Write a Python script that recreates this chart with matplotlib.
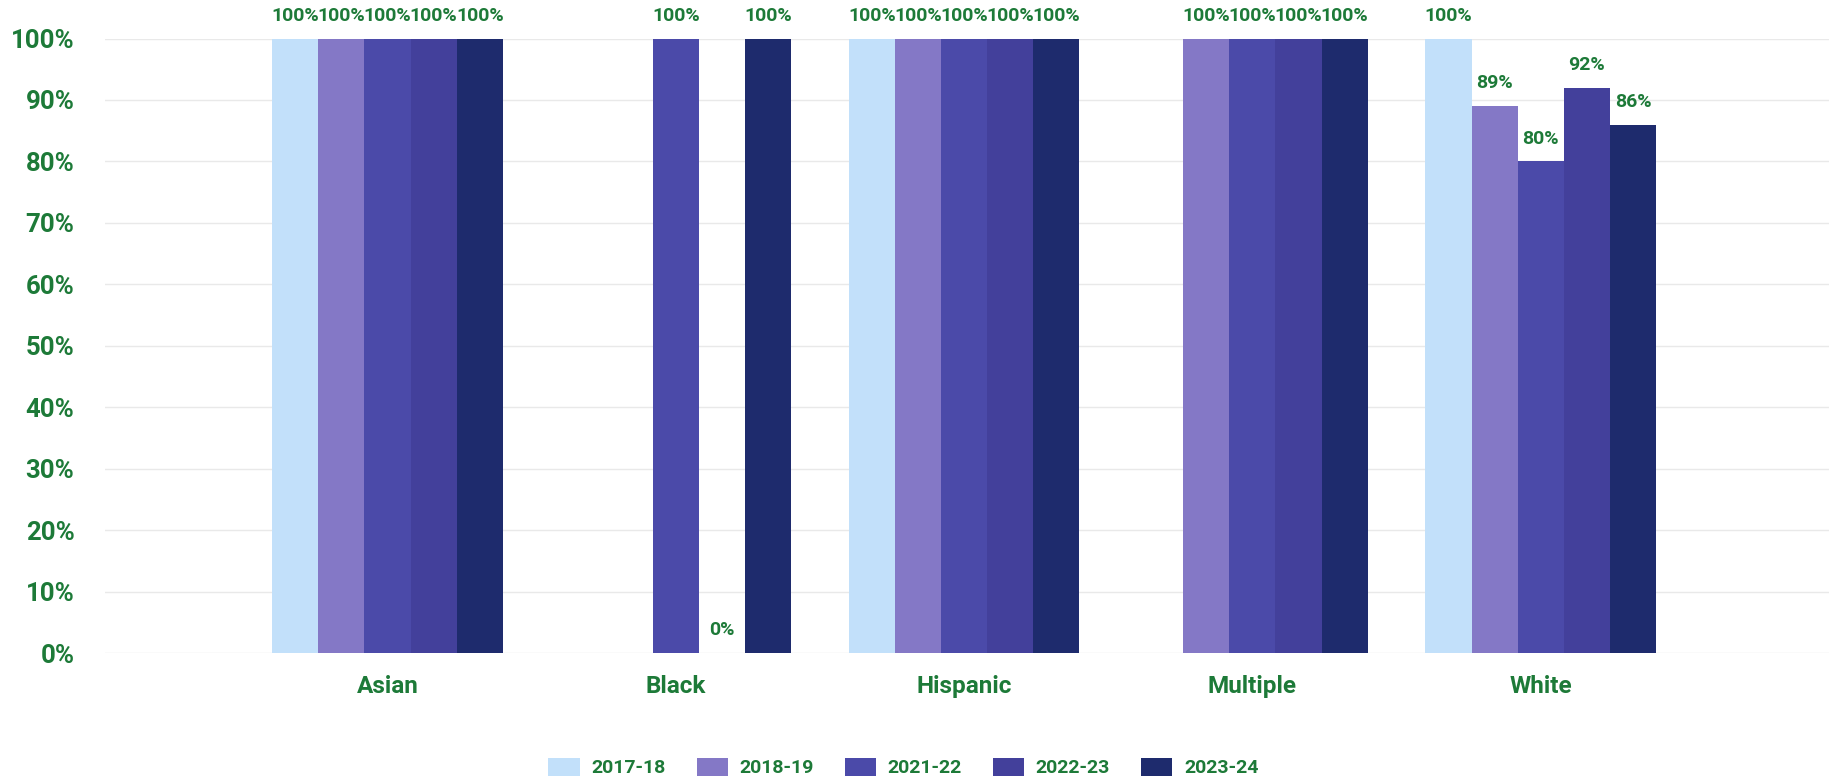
import numpy as np
import matplotlib.pyplot as plt

plt.rcParams['font.family'] = ['Roboto', 'DejaVu Sans']
plt.rcParams['font.weight'] = 'bold'

# data (nan = no bar)
groups = ["Asian", "Black", "Hispanic", "Multiple", "White"]
years = ["2017-18", "2018-19", "2021-22", "2022-23", "2023-24"]
v_2017_18 = [100, np.nan, 100, np.nan, 100]
v_2018_19 = [100, np.nan, 100, 100, 89]
v_2021_22 = [100, 100, 100, 100, 80]
v_2022_23 = [100, 0, 100, 100, 92]
v_2023_24 = [100, 100, 100, 100, 86]
series = [v_2017_18, v_2018_19, v_2021_22, v_2022_23, v_2023_24]

colors = ["#c2e0fa", "#8478c6", "#4b4aa9", "#43409b", "#1e2b6d"]
green = "#1d7a38"

fig = plt.figure(figsize=(18.29, 7.8), dpi=100)
ax = fig.add_axes([0.0574, 0.1628, 0.9426, 0.7878])

x = np.arange(len(groups))
n = len(series)
w = 0.8 / n
for i, vals in enumerate(series):
    pos = x - 0.4 + w * (i + 0.5)
    bars = ax.bar(pos, vals, width=w, color=colors[i], label=years[i], zorder=2)
    for p, v in zip(pos, vals):
        if np.isnan(v):
            continue
        ax.annotate(f"{v:.0f}%", (p, v), xytext=(0, 10), textcoords="offset points",
                    ha="center", va="bottom", color=green, fontsize=14,
                    fontweight="bold")

ax.set_xlim(-0.98, 5.0)
ax.set_ylim(0, 100)
ax.set_yticks(np.arange(0, 101, 10))
ax.set_yticklabels([f"{t}%" for t in range(0, 101, 10)])
ax.set_xticks(x)
ax.set_xticklabels(groups)
ax.tick_params(axis="y", length=0, pad=22, labelsize=18.5, labelcolor=green)
ax.tick_params(axis="x", length=0, pad=16, labelsize=17.5, labelcolor=green)
ax.yaxis.grid(True, color="#e9e9e9", linewidth=1.0, zorder=0)
for s in ax.spines.values():
    s.set_visible(False)

leg = fig.legend(loc="center", bbox_to_anchor=(0.494, 0.016), ncol=5, frameon=False,
                 fontsize=14, handlelength=1.6, handleheight=1.1, columnspacing=1.6,
                 handletextpad=0.6)
for t in leg.get_texts():
    t.set_color(green)
    t.set_fontweight("bold")

fig.savefig("out.png", dpi=100)
